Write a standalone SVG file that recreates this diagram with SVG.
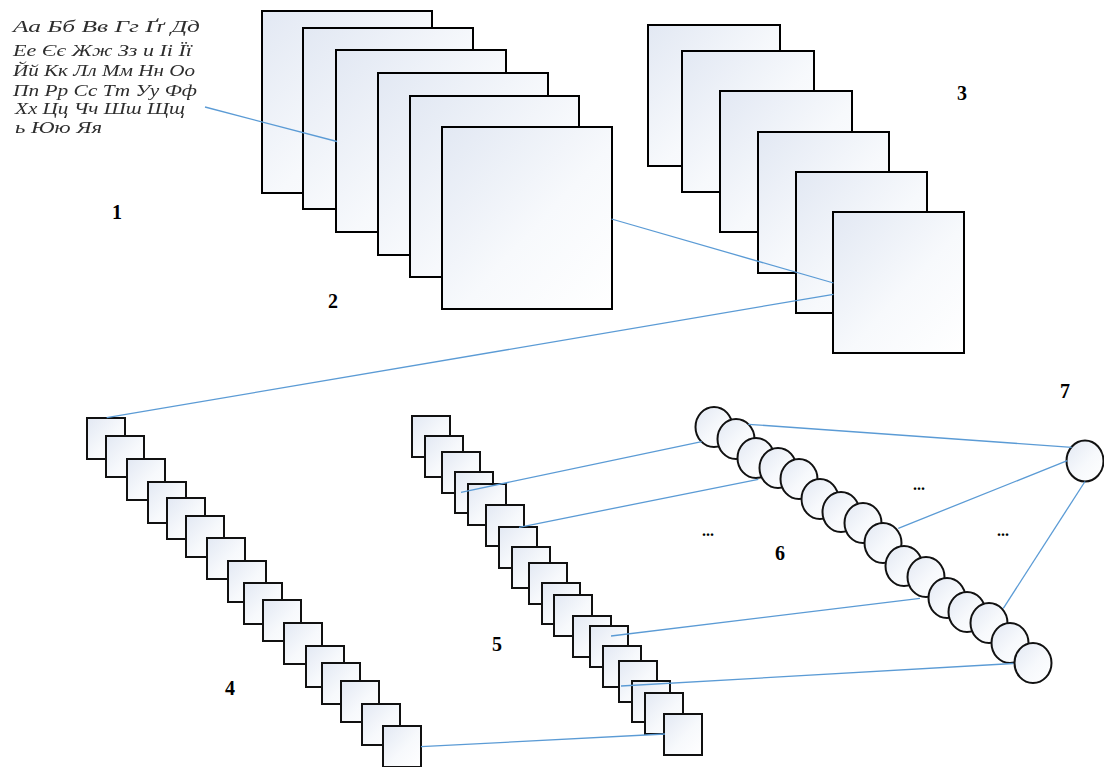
<svg xmlns="http://www.w3.org/2000/svg" width="1104" height="767" viewBox="0 0 1104 767">
  <defs>
    <linearGradient id="fillGrad" x1="0" y1="0" x2="1" y2="1">
      <stop offset="0" stop-color="#e2e8f3"/>
      <stop offset="0.55" stop-color="#f7f9fc"/>
      <stop offset="1" stop-color="#ffffff"/>
    </linearGradient>
    <filter id="soft" x="-5%" y="-20%" width="110%" height="140%">
      <feGaussianBlur stdDeviation="0.45"/>
    </filter>
  </defs>
  <style>
    .box { fill: url(#fillGrad); stroke: #000; stroke-width: 2; }
    .cell { fill: url(#fillGrad); stroke: #111; stroke-width: 2; }
    .link { stroke: #5b9bd5; stroke-width: 1.3; fill: none; }
    .num { font-family: "Liberation Serif", serif; font-weight: bold; font-size: 20px; fill: #000; text-anchor: middle; }
    .dots { font-family: "Liberation Serif", serif; font-weight: bold; font-size: 16px; fill: #000; text-anchor: middle; }
    .script { font-family: "Liberation Serif", "DejaVu Serif", serif; font-style: italic; font-size: 17px; fill: #2e2e2e; }
  </style>

  <rect width="1104" height="767" fill="#ffffff"/>

  <!-- 1: handwritten alphabet sample -->
  <g id="alphabet" filter="url(#soft)">
    <text class="script" x="13" y="32" textLength="187" lengthAdjust="spacingAndGlyphs">Аа Бб Вв Гг Ґґ Дд</text>
    <text class="script" x="13" y="56" textLength="179" lengthAdjust="spacingAndGlyphs">Ее Єє Жж Зз и Іі Її</text>
    <text class="script" x="13" y="76" textLength="182" lengthAdjust="spacingAndGlyphs">Йй Кк Лл Мм Нн Оо</text>
    <text class="script" x="13" y="96" textLength="184" lengthAdjust="spacingAndGlyphs">Пп Рр Сс Тт Уу Фф</text>
    <text class="script" x="15" y="114" textLength="170" lengthAdjust="spacingAndGlyphs">Хх Цц Чч Шш Щщ</text>
    <text class="script" x="15" y="133" textLength="87" lengthAdjust="spacingAndGlyphs">ь Юю Яя</text>
  </g>

  <!-- 2: first stack of feature maps -->
  <g id="stack2">
    <rect class="box" x="262" y="11" width="170" height="182"/>
    <rect class="box" x="303" y="28" width="170" height="181"/>
    <rect class="box" x="336" y="50" width="170" height="182"/>
    <rect class="box" x="378" y="73" width="170" height="182"/>
    <rect class="box" x="410" y="96" width="169" height="181"/>
    <rect class="box" x="442" y="127" width="170" height="182"/>
  </g>

  <!-- 3: second stack of feature maps -->
  <g id="stack3">
    <rect class="box" x="648" y="25" width="132" height="141"/>
    <rect class="box" x="682" y="51" width="132" height="141"/>
    <rect class="box" x="720" y="91" width="132" height="141"/>
    <rect class="box" x="758" y="132" width="131" height="141"/>
    <rect class="box" x="796" y="172" width="131" height="141"/>
    <rect class="box" x="833" y="212" width="131" height="141"/>
  </g>

  <!-- 4: flattened column -->
  <g id="column4">
    <rect class="cell" x="87" y="418" width="38" height="41"/>
    <rect class="cell" x="106" y="436" width="38" height="41"/>
    <rect class="cell" x="127" y="459" width="38" height="41"/>
    <rect class="cell" x="148" y="482" width="38" height="41"/>
    <rect class="cell" x="167" y="498" width="38" height="41"/>
    <rect class="cell" x="186" y="516" width="38" height="41"/>
    <rect class="cell" x="207" y="538" width="38" height="41"/>
    <rect class="cell" x="228" y="561" width="38" height="41"/>
    <rect class="cell" x="244" y="583" width="38" height="41"/>
    <rect class="cell" x="263" y="600" width="38" height="41"/>
    <rect class="cell" x="284" y="623" width="38" height="41"/>
    <rect class="cell" x="306" y="646" width="38" height="41"/>
    <rect class="cell" x="322" y="663" width="38" height="41"/>
    <rect class="cell" x="341" y="681" width="38" height="41"/>
    <rect class="cell" x="362" y="704" width="38" height="41"/>
    <rect class="cell" x="383" y="726" width="38" height="41"/>
  </g>

  <!-- 5: second column -->
  <g id="column5">
    <rect class="cell" x="412" y="416" width="38" height="41"/>
    <rect class="cell" x="425" y="436" width="38" height="41"/>
    <rect class="cell" x="442" y="452" width="38" height="41"/>
    <rect class="cell" x="455" y="472" width="38" height="41"/>
    <rect class="cell" x="468" y="484" width="38" height="41"/>
    <rect class="cell" x="486" y="505" width="38" height="41"/>
    <rect class="cell" x="499" y="527" width="38" height="41"/>
    <rect class="cell" x="512" y="547" width="38" height="41"/>
    <rect class="cell" x="529" y="563" width="38" height="41"/>
    <rect class="cell" x="542" y="583" width="38" height="41"/>
    <rect class="cell" x="554" y="595" width="38" height="41"/>
    <rect class="cell" x="573" y="616" width="38" height="41"/>
    <rect class="cell" x="590" y="626" width="38" height="41"/>
    <rect class="cell" x="603" y="646" width="38" height="41"/>
    <rect class="cell" x="619" y="661" width="38" height="41"/>
    <rect class="cell" x="632" y="681" width="38" height="41"/>
    <rect class="cell" x="645" y="693" width="38" height="41"/>
    <rect class="cell" x="664" y="714" width="38" height="41"/>
  </g>

  <!-- 6: hidden layer neurons -->
  <g id="layer6">
    <ellipse class="cell" cx="714" cy="427" rx="18.5" ry="20"/>
    <ellipse class="cell" cx="736" cy="439" rx="18.5" ry="20"/>
    <ellipse class="cell" cx="756" cy="458" rx="18.5" ry="20"/>
    <ellipse class="cell" cx="778" cy="468" rx="18.5" ry="20"/>
    <ellipse class="cell" cx="799" cy="479" rx="18.5" ry="20"/>
    <ellipse class="cell" cx="820" cy="499" rx="18.5" ry="20"/>
    <ellipse class="cell" cx="841" cy="512" rx="18.5" ry="20"/>
    <ellipse class="cell" cx="863" cy="523" rx="18.5" ry="20"/>
    <ellipse class="cell" cx="883" cy="543" rx="18.5" ry="20"/>
    <ellipse class="cell" cx="904" cy="566" rx="18.5" ry="20"/>
    <ellipse class="cell" cx="926" cy="577" rx="18.5" ry="20"/>
    <ellipse class="cell" cx="947" cy="598" rx="18.5" ry="20"/>
    <ellipse class="cell" cx="967" cy="612" rx="18.5" ry="20"/>
    <ellipse class="cell" cx="989" cy="623" rx="18.5" ry="20"/>
    <ellipse class="cell" cx="1010" cy="643" rx="18.5" ry="20"/>
    <ellipse class="cell" cx="1033" cy="663" rx="18.5" ry="20"/>
  </g>

  <!-- 7: output neuron -->
  <g id="output7">
    <ellipse class="cell" cx="1085" cy="461" rx="18.5" ry="20.5"/>
  </g>

  <!-- connectors -->
  <g id="connectors">
    <line class="link" x1="205" y1="107" x2="337" y2="141.5"/>
    <line class="link" x1="611.5" y1="219" x2="833.5" y2="283"/>
    <line class="link" x1="833.5" y1="294.3" x2="106.7" y2="417.7"/>
    <line class="link" x1="421" y1="746.7" x2="665" y2="734"/>
    <line class="link" x1="461" y1="492.3" x2="701.7" y2="441.7"/>
    <line class="link" x1="519" y1="527.3" x2="758.3" y2="479.3"/>
    <line class="link" x1="611" y1="636" x2="920" y2="598.3"/>
    <line class="link" x1="621" y1="686" x2="1013.3" y2="663.5"/>
    <line class="link" x1="748.3" y1="424.3" x2="1071.7" y2="447.3"/>
    <line class="link" x1="898.3" y1="528.3" x2="1067.3" y2="460.7"/>
    <line class="link" x1="1003.3" y1="608.3" x2="1085" y2="481.5"/>
  </g>

  <!-- labels -->
  <g id="labels">
    <text class="num" x="117" y="219">1</text>
    <text class="num" x="333" y="308">2</text>
    <text class="num" x="962" y="100">3</text>
    <text class="num" x="230" y="695">4</text>
    <text class="num" x="497" y="651">5</text>
    <text class="num" x="780" y="560">6</text>
    <text class="num" x="1065" y="398">7</text>
    <text class="dots" x="919" y="490">...</text>
    <text class="dots" x="708" y="536">...</text>
    <text class="dots" x="1003" y="536">...</text>
  </g>
</svg>
